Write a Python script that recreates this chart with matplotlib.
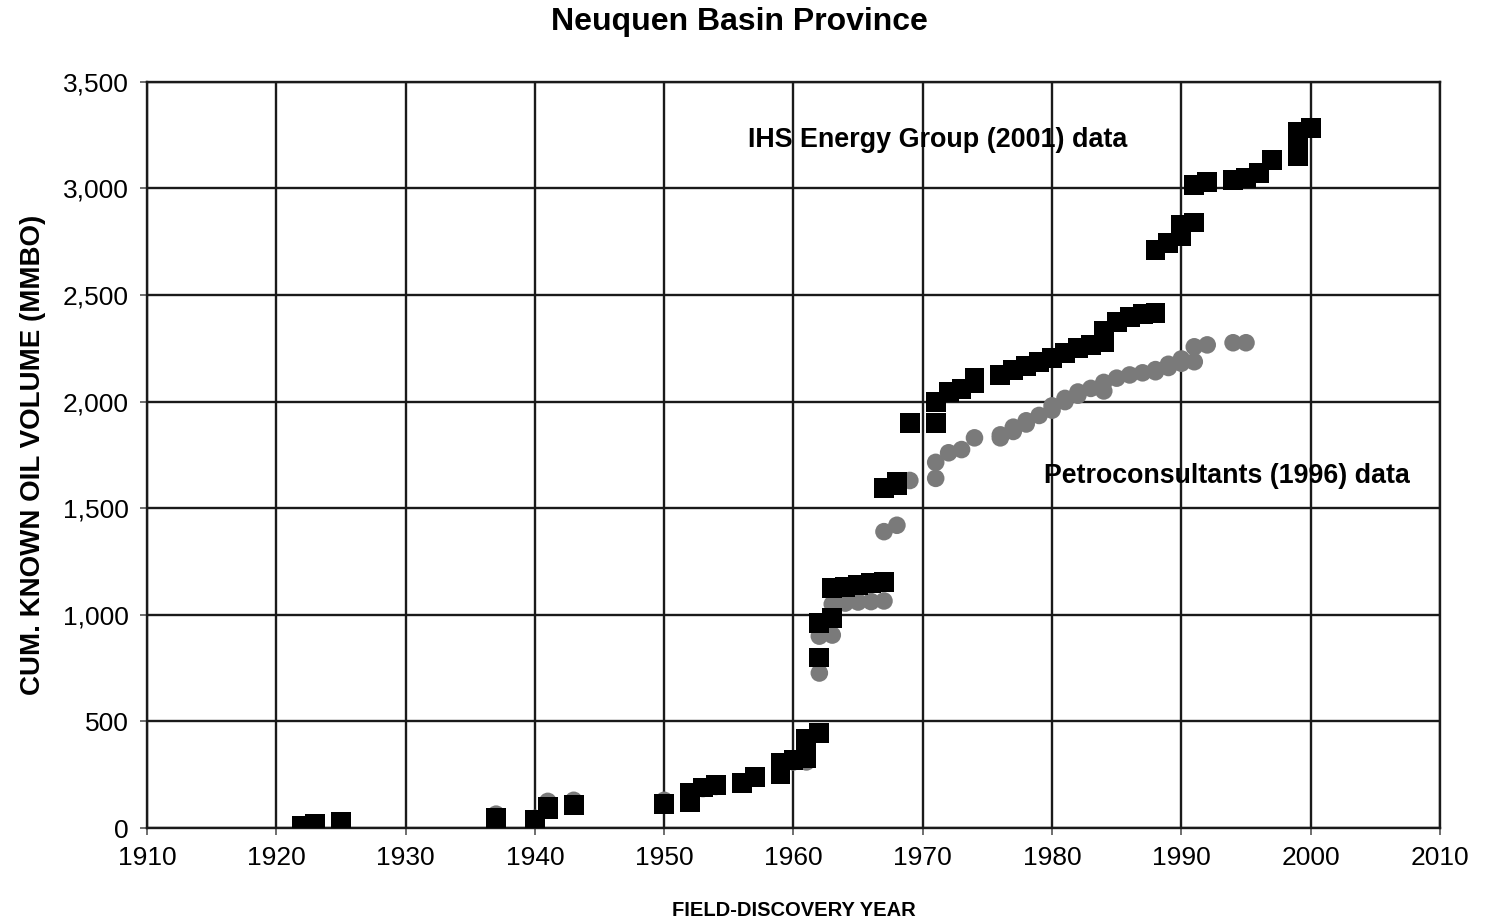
import numpy as np
import matplotlib
matplotlib.use('Agg')
import matplotlib.pyplot as plt

plt.rcParams['font.family'] = ['Liberation Sans', 'DejaVu Sans']

# IHS Energy Group (2001) - cumulative known oil volume, MMBO
ihs_year = [1922, 1923, 1925, 1937, 1940, 1941, 1941, 1943, 1950, 1952, 1952, 1953,
            1954, 1956, 1957, 1959, 1959, 1960, 1961, 1961, 1961, 1962, 1962, 1962,
            1963, 1963, 1964, 1965, 1966, 1967, 1967, 1968, 1968, 1969, 1971, 1971,
            1972, 1973, 1974, 1974, 1976, 1977, 1978, 1979, 1980, 1981, 1982, 1983,
            1984, 1984, 1985, 1986, 1987, 1988, 1988, 1989, 1990, 1990, 1991, 1991,
            1992, 1994, 1995, 1996, 1997, 1999, 1999, 1999, 2000]
ihs_vol = [10, 20, 30, 45, 40, 90, 100, 110, 113, 120, 165, 190,
           200, 210, 240, 255, 305, 320, 330, 380, 420, 445, 800, 960,
           985, 1125, 1130, 1140, 1150, 1155, 1595, 1610, 1625, 1900, 1900, 2000,
           2045, 2060, 2085, 2110, 2125, 2150, 2165, 2187, 2205, 2229, 2250, 2265,
           2280, 2330, 2375, 2398, 2412, 2417, 2712, 2745, 2775, 2830, 2840, 3017,
           3032, 3040, 3050, 3073, 3135, 3150, 3210, 3265, 3283]

# Petroconsultants (1996)
petro_year = [1922, 1923, 1925, 1937, 1940, 1941, 1943, 1950, 1952, 1953, 1954, 1956,
              1957, 1959, 1960, 1961, 1962, 1962, 1963, 1963, 1964, 1965, 1966, 1967,
              1967, 1968, 1969, 1971, 1971, 1972, 1973, 1974, 1976, 1976, 1977, 1977,
              1978, 1978, 1979, 1980, 1980, 1981, 1981, 1982, 1982, 1983, 1984, 1984,
              1985, 1986, 1987, 1988, 1988, 1989, 1989, 1990, 1990, 1991, 1991, 1992,
              1994, 1995]
petro_vol = [10, 15, 25, 65, 45, 125, 130, 130, 155, 185, 195, 210,
             240, 290, 310, 310, 727, 900, 905, 1050, 1055, 1060, 1062, 1065,
             1390, 1420, 1630, 1640, 1715, 1760, 1775, 1830, 1830, 1844, 1860, 1880,
             1895, 1910, 1935, 1960, 1980, 2000, 2015, 2030, 2045, 2062, 2050, 2090,
             2110, 2125, 2135, 2140, 2150, 2160, 2175, 2180, 2200, 2187, 2257, 2266,
             2276, 2276]

x_ticks = np.arange(1910, 2011, 10)
y_ticks = np.arange(0, 3501, 500)

fig = plt.figure(figsize=(14.88, 9.19), dpi=100)
ax = fig.add_axes([0.0988, 0.099, 0.8689, 0.812])

ax.scatter(petro_year, petro_vol, s=160, marker='o', color='#7a7a7a',
           edgecolors='none', zorder=3)
ax.scatter(ihs_year, ihs_vol, s=205, marker='s', color='black',
           edgecolors='none', zorder=4)

ax.set_xlim(1910, 2010)
ax.set_ylim(0, 3500)
ax.set_xticks(x_ticks)
ax.set_yticks(y_ticks)
ax.set_yticklabels(['{:,}'.format(v) for v in y_ticks])
ax.grid(True, color='#1a1a1a', linewidth=1.7, zorder=1)
ax.set_axisbelow(True)
for s in ax.spines.values():
    s.set_color('#1a1a1a')
    s.set_linewidth(1.7)
ax.tick_params(axis='both', labelsize=19, length=5, width=1.2, color='#555555', pad=8)

# title sits a little left of the axes centre
fig.text(0.497, 0.976, 'Neuquen Basin Province', fontsize=23, fontweight='bold',
         ha='center', va='center')
ax.set_ylabel('CUM. KNOWN OIL VOLUME (MMBO)', fontsize=20, fontweight='bold', labelpad=12)
ax.set_xlabel('FIELD-DISCOVERY YEAR', fontsize=14.5, fontweight='bold', labelpad=22)

ax.text(1956.5, 3228, 'IHS Energy Group (2001) data', fontsize=19.4,
        fontweight='bold', va='center', ha='left')
ax.text(1979.4, 1652, 'Petroconsultants (1996) data', fontsize=19.3,
        fontweight='bold', va='center', ha='left')

fig.savefig('out.png', dpi=100)
